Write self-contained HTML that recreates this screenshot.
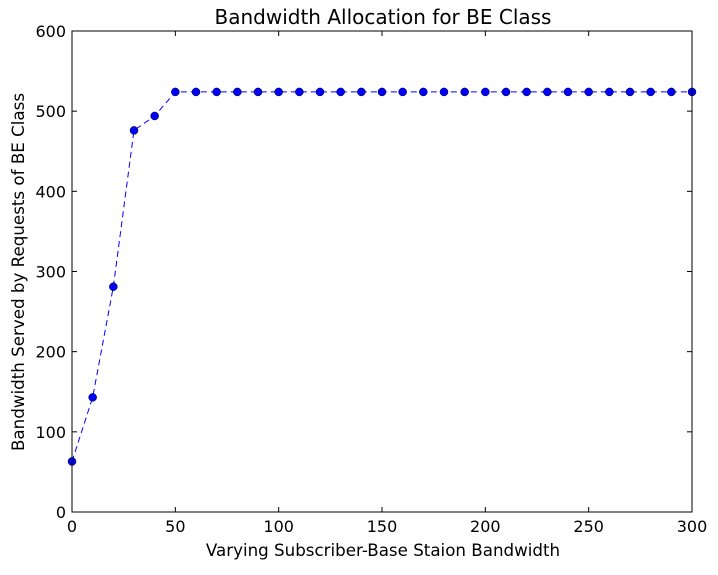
<!DOCTYPE html>
<html><head><meta charset="utf-8"><style>
body{margin:0;background:#fff;}
svg text{font-family:"DejaVu Sans","Liberation Sans",sans-serif;}
</style></head><body>
<svg id="chart" width="718" height="570">
<rect width="718" height="570" fill="#fff"/>
<text x="383" y="24" font-size="20" text-anchor="middle">Bandwidth Allocation for BE Class</text>
<text x="383" y="556" font-size="16.7" text-anchor="middle">Varying Subscriber-Base Staion Bandwidth</text>
<text x="0" y="0" font-size="16.7" text-anchor="middle" transform="translate(24,272) rotate(-90)">Bandwidth Served by Requests of BE Class</text>
<g id="ticks"></g>
<g id="series"></g>
<rect x="72" y="31" width="620" height="481" fill="none" stroke="#000" stroke-width="1"/>
</svg>
<script>
const xValues=[0,10,20,30,40,50,60,70,80,90,100,110,120,130,140,150,160,170,180,190,200,210,220,230,240,250,260,270,280,290,300];
const yValues=[63,143,281,476,494,524,524,524,524,524,524,524,524,524,524,524,524,524,524,524,524,524,524,524,524,524,524,524,524,524,524];
const xTicks=[0,50,100,150,200,250,300];
const yTicks=[0,100,200,300,400,500,600];
const X0=72,X1=692,Y0=512,Y1=31;
function sx(v){return X0+(v-0)/(300-0)*(X1-X0);}
function sy(v){return Y0-(v-0)/(600-0)*(Y0-Y1);}
const NS="http://www.w3.org/2000/svg";
const tg=document.getElementById('ticks');
function mk(tag,attrs,parent){const e=document.createElementNS(NS,tag);for(const k in attrs)e.setAttribute(k,attrs[k]);parent.appendChild(e);return e;}
xTicks.forEach(t=>{
  const x=sx(t);
  mk('line',{x1:x,x2:x,y1:Y0,y2:Y0-5,stroke:'#000'},tg);
  mk('line',{x1:x,x2:x,y1:Y1,y2:Y1+5,stroke:'#000'},tg);
  const tx=mk('text',{x:x,y:Y0+20,'font-size':16,'text-anchor':'middle'},tg);
  tx.textContent=t;
  
  
});
yTicks.forEach(t=>{
  const y=sy(t);
  mk('line',{x1:X0,x2:X0+5,y1:y,y2:y,stroke:'#000'},tg);
  mk('line',{x1:X1,x2:X1-5,y1:y,y2:y,stroke:'#000'},tg);
  const tx=mk('text',{x:X0-6,y:y+6,'font-size':16,'text-anchor':'end'},tg);
  tx.textContent=t;
  
  
});
const sg=document.getElementById('series');
const pts=xValues.map((x,i)=>sx(x)+','+sy(yValues[i])).join(' ');
const pl=mk('polyline',{points:pts,fill:'none',stroke:'#0000ff','stroke-width':1,'stroke-dasharray':'6,4'},sg);


xValues.forEach((x,i)=>{
  const c=mk('circle',{cx:sx(x),cy:sy(yValues[i]),r:4,fill:'#0000ff',stroke:'#000','stroke-width':0.5},sg);
  
  
});
</script>
</body></html>
